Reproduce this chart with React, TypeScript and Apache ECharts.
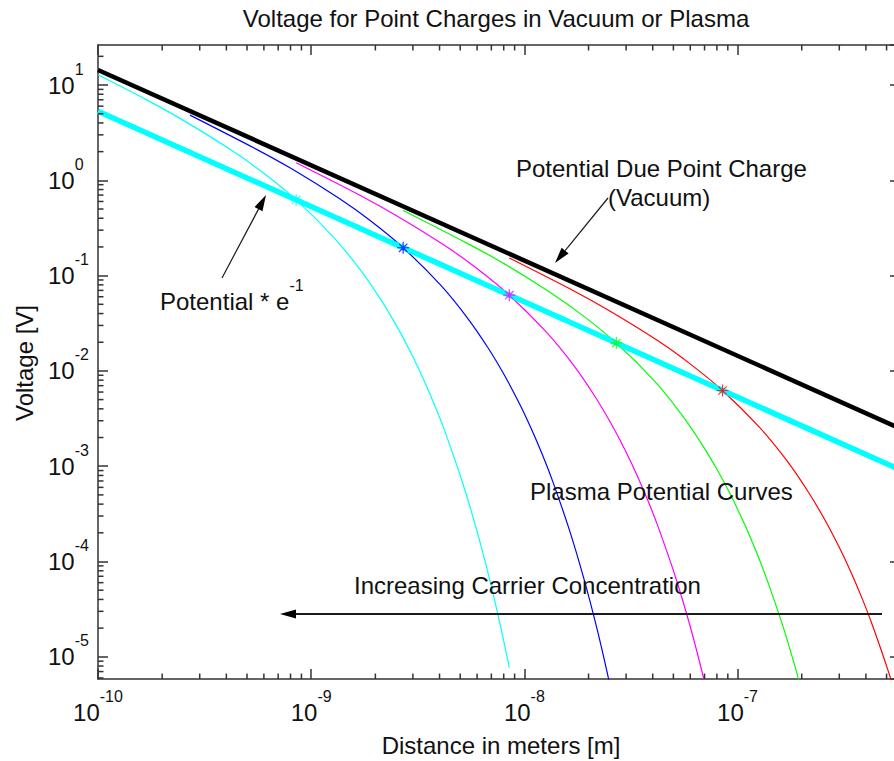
import React, { useEffect, useRef } from "react";
import * as echarts from "echarts";

// ---------- data ----------
const xMin = 1e-10;
const xMax = 5.78e-7;
const yMin = 5.85e-6;
const yMax = 26.3;

// vacuum point-charge potential (black) and that potential times e^-1 (thick cyan)
const vacuumLine: number[][] = [
  [1e-10, 14.4],
  [1e-6, 1.44e-3],
];
const vacuumOverE: number[][] = [
  [1e-10, 5.3],
  [1e-6, 5.3e-4],
];

// plasma (screened) potential curves
const curveCyan: number[][] = [
  [1e-10, 12.8], [1.7e-10, 6.94], [2.55e-10, 4.18], [4.25e-10, 2.05], [5.95e-10, 1.2],
  [8.5e-10, 0.623], [1.275e-9, 0.252], [1.7e-9, 0.115], [2.125e-9, 0.0556], [2.55e-9, 0.0281],
  [2.975e-9, 0.0146], [3.4e-9, 0.00776], [3.825e-9, 0.00418], [4.25e-9, 0.00228], [5.1e-9, 7.0e-4],
  [5.95e-9, 2.21e-4], [6.8e-9, 7.1e-5], [7.65e-9, 2.32e-5], [8.5e-9, 7.69e-6],
];
const curveBlue: number[][] = [
  [2.7e-10, 4.83], [5.4e-10, 2.18], [8.1e-10, 1.32], [1.35e-9, 0.647], [1.89e-9, 0.378],
  [2.7e-9, 0.196], [4.05e-9, 0.0794], [5.4e-9, 0.0361], [6.75e-9, 0.0175], [8.1e-9, 0.00885],
  [9.45e-9, 0.0046], [1.08e-8, 0.00244], [1.215e-8, 0.00132], [1.35e-8, 7.19e-4], [1.62e-8, 2.2e-4],
  [1.89e-8, 6.95e-5], [2.16e-8, 2.24e-5], [2.43e-8, 7.31e-6], [2.7e-8, 2.42e-6],
];
const curveMagenta: number[][] = [
  [8.5e-10, 1.53], [1.7e-9, 0.694], [2.55e-9, 0.418], [4.25e-9, 0.2055], [5.95e-9, 0.12],
  [8.5e-9, 0.0623], [1.275e-8, 0.0252], [1.7e-8, 0.0115], [2.125e-8, 0.00556], [2.55e-8, 0.00281],
  [2.975e-8, 0.00146], [3.4e-8, 7.76e-4], [3.825e-8, 4.18e-4], [4.25e-8, 2.28e-4], [5.1e-8, 7.0e-5],
  [5.95e-8, 2.21e-5], [6.8e-8, 7.1e-6], [7.65e-8, 2.32e-6], [8.5e-8, 7.69e-7],
];
const curveGreen: number[][] = [
  [2.7e-9, 0.483], [5.4e-9, 0.218], [8.1e-9, 0.132], [1.35e-8, 0.0647], [1.89e-8, 0.0378],
  [2.7e-8, 0.0196], [4.05e-8, 0.00794], [5.4e-8, 0.00361], [6.75e-8, 0.00175], [8.1e-8, 8.85e-4],
  [9.45e-8, 4.6e-4], [1.08e-7, 2.44e-4], [1.215e-7, 1.32e-4], [1.35e-7, 7.19e-5], [1.62e-7, 2.2e-5],
  [1.89e-7, 6.95e-6], [2.16e-7, 2.24e-6], [2.43e-7, 7.31e-7],
];
const curveRed: number[][] = [
  [8.5e-9, 0.153], [1.7e-8, 0.0694], [2.55e-8, 0.0418], [4.25e-8, 0.0206], [5.95e-8, 0.012],
  [8.5e-8, 0.00623], [1.275e-7, 0.00252], [1.7e-7, 0.00115], [2.125e-7, 5.56e-4], [2.55e-7, 2.81e-4],
  [2.975e-7, 1.46e-4], [3.4e-7, 7.76e-5], [3.825e-7, 4.18e-5], [4.25e-7, 2.28e-5], [5.1e-7, 7.0e-6],
  [5.95e-7, 2.21e-6],
];

// Debye-length markers (where each curve meets the e^-1 line)
const starPoints: number[][] = [
  [8.5e-10, 0.623],
  [2.7e-9, 0.196],
  [8.5e-9, 0.0623],
  [2.7e-8, 0.0196],
  [8.5e-8, 0.00623],
];

const curveColors = ["#00ffff", "#0000ff", "#ff00ff", "#00ff00", "#ff0000"];
const curveList = [curveCyan, curveBlue, curveMagenta, curveGreen, curveRed];

// minor tick values (log axis 2..9 per decade)
const minorMultipliers = [2, 3, 4, 5, 6, 7, 8, 9];
const xDecades = [-10, -9, -8, -7];
const yDecades = [-6, -5, -4, -3, -2, -1, 0, 1];

const FONT = 'Arial, "Liberation Sans", sans-serif';
const TEXT = "#111111";
const AXIS = "#333333";

const STAR =
  "path://M0 4.5L10 4.5L10 5.5L0 5.5Z M4.5 0L5.5 0L5.5 10L4.5 10Z M1.15 1.85L1.85 1.15L8.85 8.15L8.15 8.85Z M8.15 1.15L8.85 1.85L1.85 8.85L1.15 8.15Z";

function arrow(tail: number[], tip: number[], lw: number) {
  const dx = tip[0] - tail[0];
  const dy = tip[1] - tail[1];
  const len = Math.sqrt(dx * dx + dy * dy);
  const ux = dx / len;
  const uy = dy / len;
  const hl = 16;
  const hw = 4.5;
  const bx = tip[0] - ux * hl;
  const by = tip[1] - uy * hl;
  return [
    {
      type: "line",
      z: 50,
      shape: { x1: tail[0], y1: tail[1], x2: bx, y2: by },
      style: { stroke: "#1a1a1a", lineWidth: lw },
    },
    {
      type: "polygon",
      z: 50,
      shape: {
        points: [
          [tip[0], tip[1]],
          [bx - uy * hw, by + ux * hw],
          [bx + uy * hw, by - ux * hw],
        ],
      },
      style: { fill: "#000000" },
    },
  ];
}

// superscript rich styles: y-axis (centred on tick) and x-axis (hung below axis)
const supRichY = {
  b: { fontSize: 24, lineHeight: 48, fontFamily: FONT, color: TEXT },
  s: { fontSize: 16, lineHeight: 16, verticalAlign: "top", fontFamily: FONT, color: TEXT },
};
const supRichX = {
  b: { fontSize: 24, lineHeight: 24, padding: [23, 0, 0, 0], fontFamily: FONT, color: TEXT },
  s: { fontSize: 16, lineHeight: 16, verticalAlign: "top", fontFamily: FONT, color: TEXT },
};

const expLabel = (v: number) => {
  const e = Math.round(Math.log10(v));
  return `{b|10}{s|${e}}`;
};

export default function App() {
  const ref = useRef<HTMLDivElement>(null);

  useEffect(() => {
    if (!ref.current) return;
    const chart = echarts.init(ref.current, null, { renderer: "svg" });

    const xMinor: number[][] = [];
    xDecades.forEach((d) =>
      minorMultipliers.forEach((k) => {
        const v = k * Math.pow(10, d);
        if (v > xMin && v < xMax) xMinor.push([v, 1]);
      })
    );
    const yMinor: number[][] = [];
    yDecades.forEach((d) =>
      minorMultipliers.forEach((k) => {
        const v = k * Math.pow(10, d);
        if (v > yMin && v < yMax) yMinor.push([1e-9, v]);
      })
    );

    const axisLineStyle = { color: AXIS, width: 1.5 };
    const baseX = {
      type: "log",
      logBase: 10,
      min: xMin,
      max: xMax,
      splitLine: { show: false },
      minorTick: { show: false },
      axisLine: { show: true, lineStyle: axisLineStyle },
      axisTick: { show: true, inside: true, length: 10, lineStyle: axisLineStyle },
    };
    const baseY = {
      type: "log",
      logBase: 10,
      min: yMin,
      max: yMax,
      splitLine: { show: false },
      minorTick: { show: false },
      axisLine: { show: true, lineStyle: axisLineStyle },
      axisTick: { show: true, inside: true, length: 10, lineStyle: axisLineStyle },
    };

    const curveSeries = curveList.map((d, i) => ({
      type: "line",
      data: d,
      showSymbol: false,
      symbol: "none",
      smooth: 0.3,
      z: 2,
      lineStyle: { color: curveColors[i], width: 1.2 },
      silent: true,
    }));

    const option: any = {
      animation: false,
      backgroundColor: "#ffffff",
      grid: {
        left: 98,
        top: 45,
        right: 0,
        bottom: 82,
        containLabel: false,
        outerBoundsMode: "none",
      },
      xAxis: [
        {
          ...baseX,
          position: "bottom",
          axisLabel: {
            show: true,
            interval: 0,
            margin: 9.5,
            showMinLabel: true,
            showMaxLabel: false,
            formatter: expLabel,
            rich: supRichX,
          },
        },
        { ...baseX, position: "top", axisLabel: { show: false } },
      ],
      yAxis: [
        {
          ...baseY,
          position: "left",
          axisLabel: {
            show: true,
            interval: 0,
            margin: 50,
            align: "left",
            showMinLabel: false,
            showMaxLabel: false,
            formatter: expLabel,
            rich: supRichY,
          },
        },
        { ...baseY, position: "right", axisLabel: { show: false } },
      ],
      series: [
        ...curveSeries,
        {
          type: "line",
          data: vacuumOverE,
          showSymbol: false,
          symbol: "none",
          z: 3,
          lineStyle: { color: "#00ffff", width: 5.5 },
          silent: true,
        },
        {
          type: "line",
          data: vacuumLine,
          showSymbol: false,
          symbol: "none",
          z: 4,
          lineStyle: { color: "#000000", width: 4.5 },
          silent: true,
        },
        {
          type: "scatter",
          z: 6,
          symbol: STAR,
          symbolSize: 12,
          silent: true,
          data: starPoints.map((p, i) => ({ value: p, itemStyle: { color: curveColors[i] } })),
        },
        {
          type: "custom",
          z: 10,
          silent: true,
          data: xMinor,
          renderItem: (params: any, api: any) => {
            const cs = params.coordSys;
            const p = api.coord([api.value(0), api.value(1)]);
            const bottom = cs.y + cs.height;
            const top = cs.y;
            return {
              type: "group",
              children: [
                { type: "line", shape: { x1: p[0], y1: bottom, x2: p[0], y2: bottom - 5.5 }, style: { stroke: AXIS, lineWidth: 1.5 } },
                { type: "line", shape: { x1: p[0], y1: top, x2: p[0], y2: top + 5.5 }, style: { stroke: AXIS, lineWidth: 1.5 } },
              ],
            };
          },
        },
        {
          type: "custom",
          z: 10,
          silent: true,
          data: yMinor,
          renderItem: (params: any, api: any) => {
            const cs = params.coordSys;
            const p = api.coord([api.value(0), api.value(1)]);
            const left = cs.x;
            const right = cs.x + cs.width;
            return {
              type: "group",
              children: [
                { type: "line", shape: { x1: left, y1: p[1], x2: left + 5.5, y2: p[1] }, style: { stroke: AXIS, lineWidth: 1.5 } },
                { type: "line", shape: { x1: right, y1: p[1], x2: right - 5.5, y2: p[1] }, style: { stroke: AXIS, lineWidth: 1.5 } },
              ],
            };
          },
        },
      ],
      graphic: [
        {
          type: "text",
          x: 496,
          y: 18.5,
          z: 50,
          style: {
            text: "Voltage for Point Charges in Vacuum or Plasma",
            font: `24px ${FONT}`,
            fill: TEXT,
            align: "center",
            verticalAlign: "middle",
          },
        },
        {
          type: "text",
          x: 501,
          y: 745,
          z: 50,
          style: {
            text: "Distance in meters [m]",
            font: `24px ${FONT}`,
            fill: TEXT,
            align: "center",
            verticalAlign: "middle",
          },
        },
        {
          type: "text",
          x: 24,
          y: 363,
          z: 50,
          rotation: Math.PI / 2,
          style: {
            text: "Voltage [V]",
            font: `24px ${FONT}`,
            fill: TEXT,
            align: "center",
            verticalAlign: "middle",
          },
        },
        {
          type: "text",
          x: 516,
          y: 168,
          z: 50,
          style: {
            text: "Potential Due Point Charge",
            font: `24px ${FONT}`,
            fill: TEXT,
            align: "left",
            verticalAlign: "middle",
          },
        },
        {
          type: "text",
          x: 608,
          y: 197,
          z: 50,
          style: {
            text: "(Vacuum)",
            font: `24px ${FONT}`,
            fill: TEXT,
            align: "left",
            verticalAlign: "middle",
          },
        },
        {
          type: "text",
          x: 160,
          y: 277.5,
          z: 50,
          style: {
            text: "{b|Potential * e}{s|-1}",
            rich: supRichY,
            font: `24px ${FONT}`,
            fill: TEXT,
            align: "left",
            verticalAlign: "top",
          },
        },
        {
          type: "text",
          x: 530,
          y: 491,
          z: 50,
          style: {
            text: "Plasma Potential Curves",
            font: `24px ${FONT}`,
            fill: TEXT,
            align: "left",
            verticalAlign: "middle",
          },
        },
        {
          type: "text",
          x: 354,
          y: 585,
          z: 50,
          style: {
            text: "Increasing Carrier Concentration",
            font: `24px ${FONT}`,
            fill: TEXT,
            align: "left",
            verticalAlign: "middle",
          },
        },
        ...arrow([222, 278], [266, 195], 1.2),
        ...arrow([608, 198], [555, 263], 1.2),
        ...arrow([882, 614], [280, 614], 2),
      ],
    };

    chart.setOption(option);
    return () => chart.dispose();
  }, []);

  return (
    <div
      ref={ref}
      style={{ position: "fixed", left: 0, top: 0, width: 900, height: 761, background: "#fff" }}
    />
  );
}
